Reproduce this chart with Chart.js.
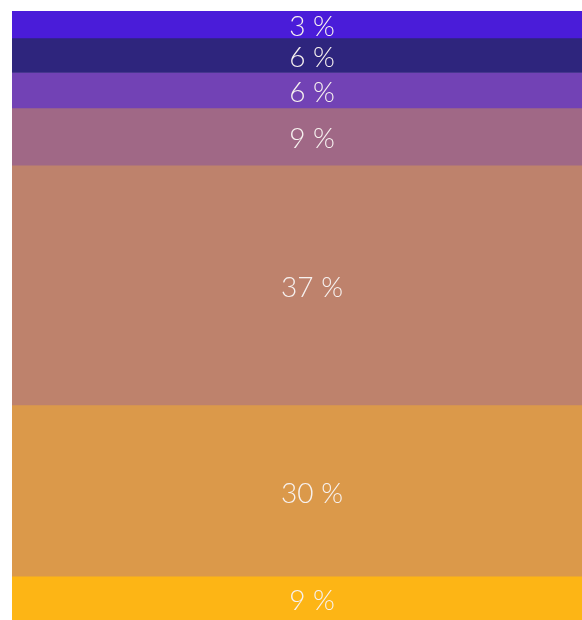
<!DOCTYPE html>
<html lang="en">
<head>
    <meta charset="UTF-8">
    <title>Stacked Share</title>
    <script src="https://cdn.jsdelivr.net/npm/chart.js"></script>
    <style>
        html, body { margin: 0; padding: 0; background: #ffffff; }
        .chart-container { position: relative; width: 582px; height: 620px; }
    </style>
</head>
<body>
    <div class="chart-container">
        <canvas id="shareChart"></canvas>
    </div>
    <script>
        // segments listed top to bottom
        const categories = ['Total'];
        const segmentValues = [4.4, 5.7, 5.8, 9.4, 39.4, 28.1, 7.2];
        const segmentLabels = ['3 %', '6 %', '6 %', '9 %', '37 %', '30 %', '9 %'];
        const segmentColors = ['#4a1cd9', '#2e257d', '#7242b5', '#a06886', '#be826c', '#db994a', '#fdb515'];

        const labelPlugin = {
            id: 'segmentLabels',
            afterDatasetsDraw(chart) {
                const ctx = chart.ctx;
                ctx.save();
                ctx.fillStyle = '#f7f2f0';
                ctx.font = '300 28px Lato';
                ctx.textAlign = 'center';
                ctx.textBaseline = 'middle';
                chart.data.datasets.forEach((ds, i) => {
                    const bar = chart.getDatasetMeta(i).data[0];
                    const cy = (bar.y + bar.base) / 2;
                    ctx.fillText(segmentLabels[i], bar.x + 15, cy + 3);
                });
                ctx.restore();
            }
        };

        new Chart(document.getElementById('shareChart').getContext('2d'), {
            type: 'bar',
            data: {
                labels: categories,
                datasets: segmentValues.map((v, i) => ({
                    label: segmentLabels[i],
                    data: [v],
                    backgroundColor: segmentColors[i],
                    borderWidth: 0,
                    barPercentage: 1,
                    categoryPercentage: 1
                }))
            },
            options: {
                responsive: true,
                maintainAspectRatio: false,
                animation: false,
                layout: { padding: { left: 12, top: 11, right: 0, bottom: 0 } },
                scales: {
                    x: { stacked: true, display: false },
                    y: { stacked: true, display: false, reverse: true, min: 0, max: 100 }
                },
                plugins: {
                    legend: { display: false },
                    tooltip: { enabled: false }
                }
            },
            plugins: [labelPlugin]
        });
    </script>
</body>
</html>
